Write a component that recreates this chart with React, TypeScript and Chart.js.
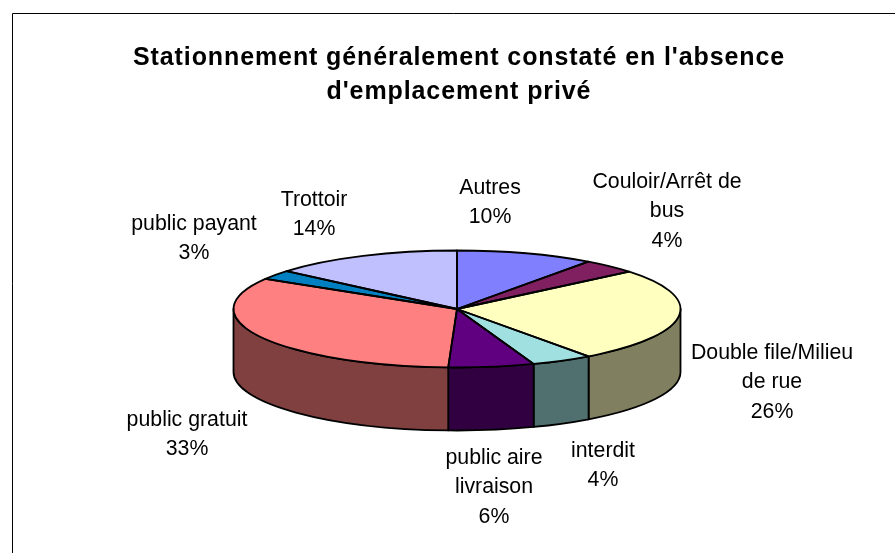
import React, { useEffect, useRef } from "react";
import { Chart, registerables } from "chart.js";

Chart.register(...registerables);

const categories = [
  "Autres",
  "Couloir/Arrêt de bus",
  "Double file/Milieu de rue",
  "interdit",
  "public aire livraison",
  "public gratuit",
  "public payant",
  "Trottoir",
];
const values = [10, 4, 26, 4.45, 6.2, 33, 2.6, 13.8];
const topColors = ["#8080FF", "#802060", "#FFFFC0", "#A0E0E0", "#600080", "#FF8080", "#0080C0", "#C0C0FF"];
const sideColors = ["#404080", "#401030", "#808060", "#507070", "#300040", "#804040", "#004060", "#606080"];
const labelLines = [
  ["Autres"],
  ["Couloir/Arrêt de", "bus"],
  ["Double file/Milieu", "de rue"],
  ["interdit"],
  ["public aire", "livraison"],
  ["public gratuit"],
  ["public payant"],
  ["Trottoir"],
];
const titleLines = ["Stationnement généralement constaté en l'absence", "d'emplacement privé"];

// Layout of the picture (not data)
const W = 895;
const H = 553;
const CX = 457;
const CY = 309;
const RX = 223.5;
const RY = 58.5;
const DEPTH = 63;
const labelX = [490, 667, 772, 603, 494, 187, 194, 314];
const labelY = [188, 182, 353, 451, 458, 420, 224, 200];
const LINE_H = 29.5;

const pie3d = {
  id: "pie3d",
  beforeDraw(chart: any) {
    const c = chart.ctx;
    c.save();
    c.fillStyle = "#fff";
    c.fillRect(0, 0, W, H);
    c.strokeStyle = "#000";
    c.lineWidth = 1;
    c.beginPath();
    c.moveTo(12.5, H);
    c.lineTo(12.5, 13.5);
    c.lineTo(W, 13.5);
    c.stroke();
    c.restore();
    c.letterSpacing = "0.9px";
  },
  beforeDatasetsDraw(chart: any) {
    const c = chart.ctx;
    c.letterSpacing = "0px";
    const arcs = chart.getDatasetMeta(0).data;
    c.save();
    c.lineWidth = 1.8;
    c.strokeStyle = "#000";
    c.lineJoin = "round";
    arcs.forEach((arc: any, i: number) => {
      const a = Math.max(arc.startAngle, 0);
      const b = Math.min(arc.endAngle, Math.PI);
      if (b <= a) return;
      c.beginPath();
      c.ellipse(CX, CY, RX, RY, 0, a, b);
      c.ellipse(CX, CY + DEPTH, RX, RY, 0, b, a, true);
      c.closePath();
      c.fillStyle = sideColors[i];
      c.fill();
      c.stroke();
    });
    c.restore();
  },
  beforeDatasetDraw(chart: any) {
    const c = chart.ctx;
    const a0 = chart.getDatasetMeta(0).data[0];
    c.save();
    c.translate(CX, CY);
    c.scale(1, RY / RX);
    c.translate(-a0.x, -a0.y);
  },
  afterDatasetDraw(chart: any) {
    chart.ctx.restore();
  },
  afterDatasetsDraw(chart: any) {
    const c = chart.ctx;
    const arcs = chart.getDatasetMeta(0).data;
    const total = values.reduce((s, v) => s + v, 0);
    c.save();
    c.lineWidth = 1.8;
    c.strokeStyle = "#000";
    c.lineJoin = "round";
    arcs.forEach((arc: any) => {
      c.beginPath();
      c.moveTo(CX, CY);
      c.ellipse(CX, CY, RX, RY, 0, arc.startAngle, arc.endAngle);
      c.closePath();
      c.stroke();
    });
    c.fillStyle = "#000";
    c.font = '21.3px "Liberation Sans"';
    c.textAlign = "center";
    c.textBaseline = "middle";
    labelLines.forEach((lines, i) => {
      const all = [...lines, Math.round((values[i] / total) * 100) + "%"];
      all.forEach((t, j) => c.fillText(t, labelX[i], labelY[i] + j * LINE_H));
    });
    c.restore();
  },
};

export default function App() {
  const ref = useRef<HTMLCanvasElement>(null);
  useEffect(() => {
    const chart = new Chart(ref.current as HTMLCanvasElement, {
      type: "pie",
      data: {
        labels: categories,
        datasets: [
          {
            data: values,
            backgroundColor: topColors,
            borderWidth: 0,
            radius: RX,
            clip: false,
          } as any,
        ],
      },
      options: {
        responsive: false,
        animation: false,
        events: [],
        layout: { padding: { left: 23, right: 0, top: 36, bottom: 0 } },
        plugins: {
          legend: { display: false },
          tooltip: { enabled: false },
          title: {
            display: true,
            text: titleLines,
            color: "#000",
            font: { family: '"Liberation Sans"', size: 25, weight: "bold", lineHeight: 1.36 },
            padding: { top: 5, bottom: 5 },
          },
        },
      },
      plugins: [pie3d],
    } as any);
    return () => chart.destroy();
  }, []);
  return (
    <canvas
      ref={ref}
      width={W}
      height={H}
      style={{ position: "absolute", left: 0, top: 0, display: "block" }}
    />
  );
}
